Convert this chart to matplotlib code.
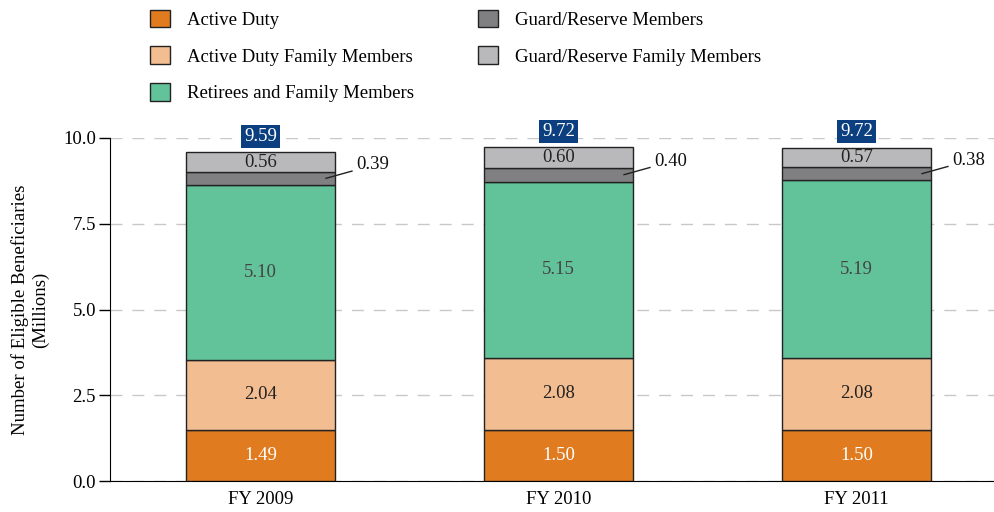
import numpy as np
from matplotlib import pyplot as plt

plt.rcParams['font.family'] = ['Liberation Serif', 'DejaVu Serif']

years = ['FY 2009', 'FY 2010', 'FY 2011']
active_duty = [1.49, 1.50, 1.50]
ad_family = [2.04, 2.08, 2.08]
retirees = [5.10, 5.15, 5.19]
guard = [0.39, 0.40, 0.38]
guard_family = [0.56, 0.60, 0.57]
totals = [9.59, 9.72, 9.72]

series = [
    ('Active Duty', active_duty, '#e07b20', 'white'),
    ('Active Duty Family Members', ad_family, '#f2bd90', '#222222'),
    ('Retirees and Family Members', retirees, '#62c39b', '#444444'),
    ('Guard/Reserve Members', guard, '#808083', None),
    ('Guard/Reserve Family Members', guard_family, '#b9b9bb', '#222222'),
]

FS = 13.5

fig = plt.figure(figsize=(9.95, 5.12), dpi=100)
ax = fig.add_axes([110 / 995, 31 / 512, 885 / 995, 343 / 512])

x = np.arange(len(years))
width = 0.5
bottom = np.zeros(len(years))
handles = []
for name, vals, col, tcol in series:
    vals = np.array(vals)
    b = ax.bar(x, vals, width, bottom=bottom, color=col, edgecolor='#222222',
               linewidth=1, label=name, zorder=3)
    handles.append(b)
    for i in range(len(years)):
        mid = bottom[i] + vals[i] / 2
        if tcol is None:
            # small segment -> label outside with leader line
            ax.plot([x[i] + 0.22, x[i] + 0.307], [mid, mid + 0.21],
                    color='#222222', lw=1, zorder=4, clip_on=False)
            ax.text(x[i] + 0.322, mid + 0.39, '%.2f' % vals[i], ha='left',
                    va='center', fontsize=FS, color='#111111')
        else:
            ax.text(x[i], mid, '%.2f' % vals[i], ha='center', va='center',
                    fontsize=FS, color=tcol, zorder=4)
    bottom = bottom + vals

for i in range(len(years)):
    ax.annotate('%.2f' % totals[i], xy=(x[i], bottom[i]), xytext=(0, 11.5),
                textcoords='offset points', ha='center', va='center',
                fontsize=FS, color='white', zorder=5,
                bbox=dict(boxstyle='square,pad=0.15', fc='#0b3f7f', ec='none'))

ax.set_ylim(0, 10)
ax.set_xlim(-0.505, 2.465)
ax.set_yticks([0, 2.5, 5.0, 7.5, 10.0])
ax.set_yticklabels(['0.0', '2.5', '5.0', '7.5', '10.0'], fontsize=FS)
ax.set_xticks(x)
ax.set_xticklabels(years, fontsize=FS)
ax.tick_params(axis='x', length=0, pad=7)
ax.tick_params(axis='y', length=8, width=1, direction='out', pad=2)
ax.yaxis.grid(True, color='#c8c8c8', linestyle=(0, (8.6, 7.2)), linewidth=1, zorder=0)
ax.spines['top'].set_visible(False)
ax.spines['right'].set_visible(False)
ax.set_ylabel('Number of Eligible Beneficiaries\n(Millions)', fontsize=FS, labelpad=10)

fig.legend(handles=handles, loc='upper left', bbox_to_anchor=(0.134, 1.014), ncol=2,
           frameon=False, fontsize=FS, handlelength=1.07, handleheight=1.07,
           labelspacing=0.93, columnspacing=3.4, handletextpad=0.9)

fig.savefig('out.png', dpi=100)
